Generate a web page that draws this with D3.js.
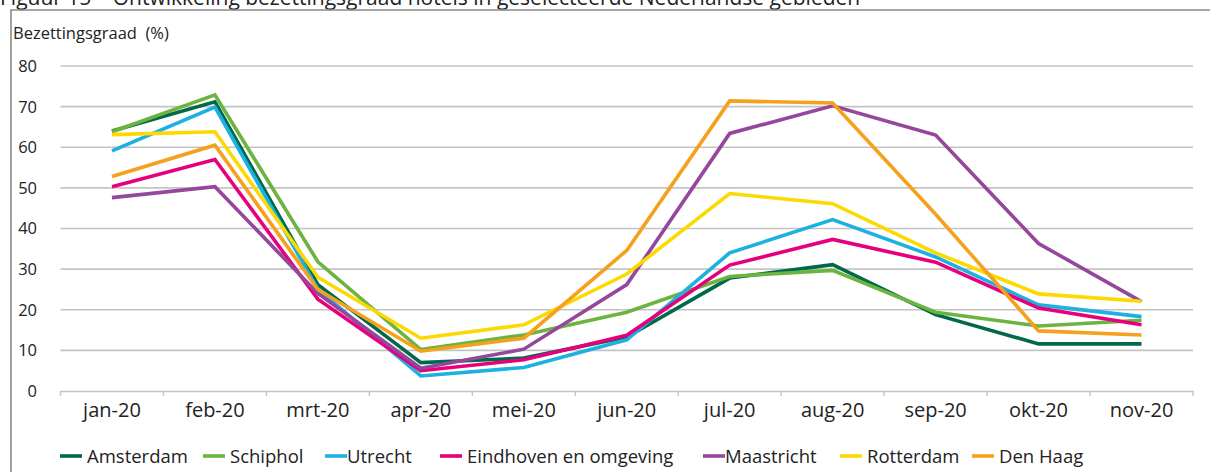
<!DOCTYPE html>
<html>
<head>
<meta charset="utf-8">
<script src="https://cdn.jsdelivr.net/npm/d3@7/dist/d3.min.js"></script>
<style>
  html, body { margin: 0; padding: 0; background: #ffffff; }
  svg { display: block; font-family: "Open Sans", "Noto Sans", sans-serif; }
</style>
</head>
<body>
<svg id="chart" width="1210" height="472"></svg>
<script>
// ---- data ----
const title = "Figuur 15 \u2013 Ontwikkeling bezettingsgraad hotels in geselecteerde Nederlandse gebieden";
const yAxisTitle = "Bezettingsgraad  (%)";
const months = ["jan-20","feb-20","mrt-20","apr-20","mei-20","jun-20","jul-20","aug-20","sep-20","okt-20","nov-20"];
const yTicks = [0, 10, 20, 30, 40, 50, 60, 70, 80];
const seriesNames = ["Amsterdam","Schiphol","Utrecht","Eindhoven en omgeving","Maastricht","Rotterdam","Den Haag"];
const amsterdam  = [64.0, 71.2, 26.2,  7.0,  8.1, 13.3, 27.8, 31.1, 18.8, 11.6, 11.6];
const schiphol   = [63.8, 72.9, 31.8, 10.2, 13.8, 19.4, 28.2, 29.7, 19.4, 16.0, 17.4];
const utrecht    = [59.1, 69.9, 25.0,  3.7,  5.8, 12.6, 34.0, 42.2, 33.0, 21.2, 18.3];
const eindhoven  = [50.3, 57.0, 22.6,  5.0,  7.7, 13.7, 31.0, 37.3, 31.7, 20.4, 16.3];
const maastricht = [47.6, 50.3, 24.0,  5.6, 10.3, 26.2, 63.4, 70.2, 63.0, 36.3, 22.0];
const rotterdam  = [63.1, 63.8, 28.0, 13.0, 16.3, 28.8, 48.6, 46.1, 34.0, 23.9, 22.1];
const denHaag    = [52.8, 60.5, 25.0,  9.8, 13.0, 34.6, 71.4, 70.9, 43.5, 14.8, 13.8];
const seriesValues = [amsterdam, schiphol, utrecht, eindhoven, maastricht, rotterdam, denHaag];
const seriesColors = ["#00694a","#6cb33f","#1cb1e1","#e6007e","#94479b","#fcd900","#f5a11d"];

// ---- layout ----
const svg = d3.select("#chart");
const plotLeft = 60.5, plotRight = 1193, plotTop = 66, plotBottom = 391;

const x = d3.scaleBand().domain(months).range([plotLeft, plotRight]).padding(0);
const y = d3.scaleLinear().domain([0, 80]).range([plotBottom, plotTop]);
const cx = m => x(m) + x.bandwidth() / 2;

// title (cut off at the top, as in the reference)
svg.append("text").attr("x", 0).attr("y", 5)
  .attr("font-family", "'Open Sans', sans-serif")
  .attr("font-size", 21).attr("fill", "#222").text(title);

// frame
svg.append("path").attr("d", `M11,472 L11,10 L1210,10`)
  .attr("fill", "none").attr("stroke", "#8a8a8a").attr("stroke-width", 1.6);

// axis title
svg.append("text").attr("x", 13).attr("y", 39).attr("font-size", 16.5)
  .attr("fill", "#222").attr("xml:space", "preserve").style("white-space", "pre").text(yAxisTitle);

// gridlines
svg.append("g").selectAll("line").data(yTicks.filter(t => t > 0)).join("line")
  .attr("x1", plotLeft).attr("x2", plotRight)
  .attr("y1", d => y(d)).attr("y2", d => y(d))
  .attr("stroke", "#c4c4c4").attr("stroke-width", 1.6);

// y tick labels
svg.append("g").selectAll("text").data(yTicks).join("text")
  .attr("x", 37).attr("y", d => y(d)).attr("dy", "0.36em")
  .attr("text-anchor", "end").attr("font-size", 16.5).attr("fill", "#222")
  .text(d => d);

// x axis (baseline + ticks at band boundaries)
const xAxis = d3.axisBottom(x).tickSize(0).tickSizeOuter(0).tickFormat("");
const gx = svg.append("g").attr("transform", `translate(0,${plotBottom})`).call(xAxis);
gx.select(".domain").attr("stroke", "#c4c4c4").attr("stroke-width", 1.6);
gx.selectAll(".tick").remove();
const boundaries = months.map(m => x(m)).concat([x(months[months.length - 1]) + x.bandwidth()]);
gx.selectAll("line.bt").data(boundaries).join("line").attr("class", "bt")
  .attr("x1", d => d).attr("x2", d => d).attr("y1", 0).attr("y2", 5)
  .attr("stroke", "#c4c4c4").attr("stroke-width", 1.4);

// x labels
svg.append("g").selectAll("text").data(months).join("text")
  .attr("x", d => cx(d)).attr("y", 417).attr("text-anchor", "middle")
  .attr("font-size", 20).attr("fill", "#222").text(d => d);

// lines
const line = d3.line().x((d, i) => cx(months[i])).y(d => y(d));
svg.append("g").selectAll("path").data(seriesValues).join("path")
  .attr("d", d => line(d)).attr("fill", "none")
  .attr("stroke", (d, i) => seriesColors[i]).attr("stroke-width", 3.6)
  .attr("stroke-linejoin", "miter").attr("stroke-linecap", "butt");

// legend
const legendSwatchX = [60, 203, 325, 440, 703, 840, 972];
const legendY = 456;
const lg = svg.append("g").selectAll("g").data(seriesNames).join("g")
  .attr("transform", (d, i) => `translate(${legendSwatchX[i]},${legendY})`);
lg.append("line").attr("x1", 0).attr("x2", 22).attr("y1", 0).attr("y2", 0)
  .attr("stroke", (d, i) => seriesColors[i]).attr("stroke-width", 3.6);
lg.append("text").attr("x", (d, i) => i === 2 || i === 4 ? 22 : 27).attr("y", 0).attr("dy", "0.36em")
  .attr("font-size", 18.5).attr("fill", "#222").text(d => d);
</script>
</body>
</html>
